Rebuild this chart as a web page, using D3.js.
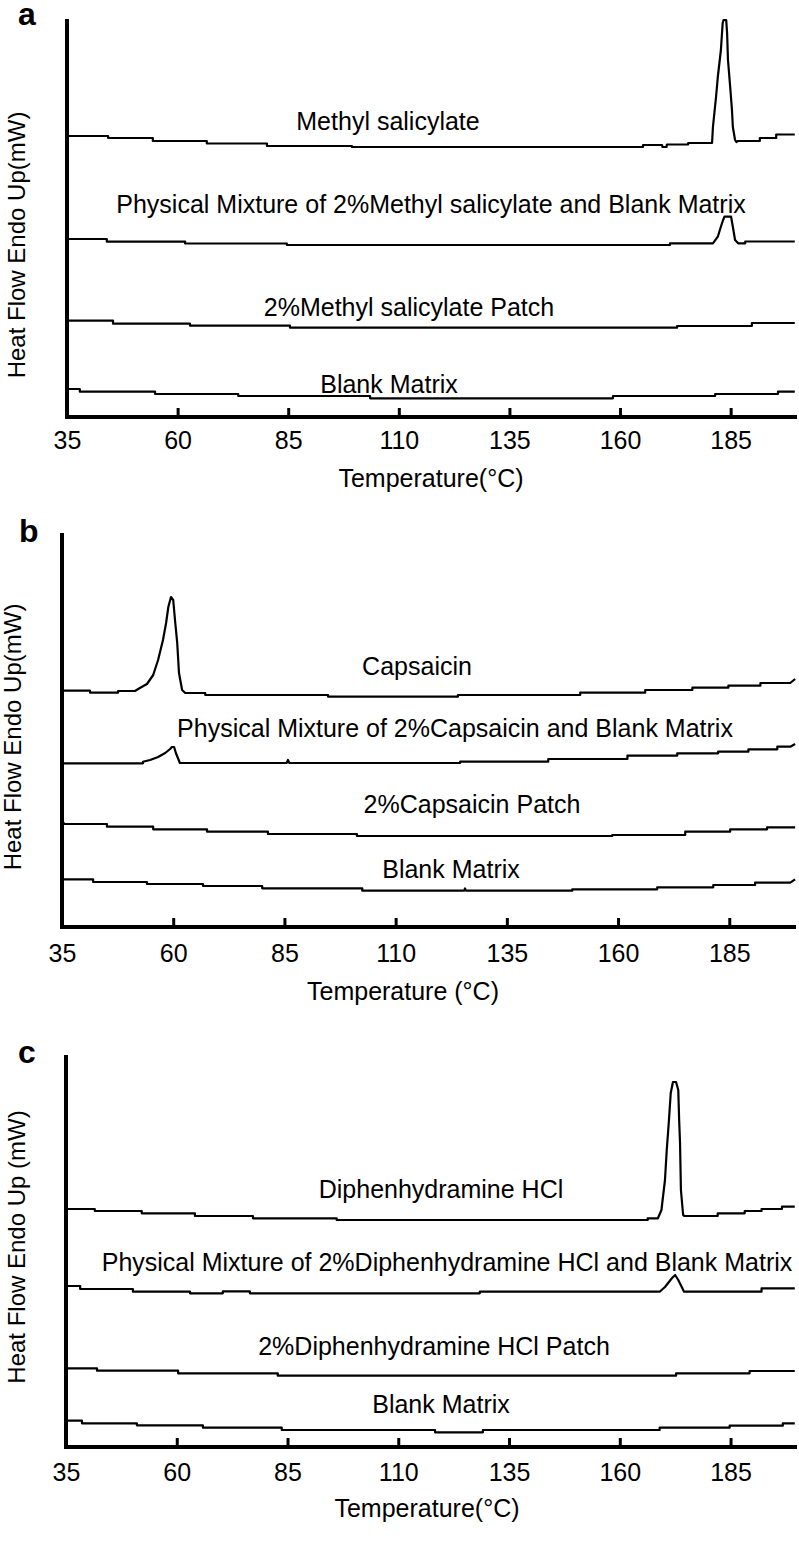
<!DOCTYPE html>
<html>
<head>
<meta charset="utf-8">
<script src="https://cdn.jsdelivr.net/npm/d3@7"></script>
<style>
  html, body { margin: 0; padding: 0; background: #fff; }
  svg { display: block; }
  text { font-family: "Liberation Sans", Arial, sans-serif; fill: #000; }
</style>
</head>
<body>
<svg id="chart" width="799" height="1543"></svg>
<script>
// ---------------- DATA ----------------
const tickTemps = [35, 60, 85, 110, 135, 160, 185];
const tempDomain = [35, 200];

// Panel a (relative heat flow, arbitrary units)
const methylSalicylate = [[35,281],[44.3,281],[44.3,279],[54.4,279],[54.4,276],[66.6,276],[66.6,273.5],[80.2,273.5],[80.2,271],[99.4,271],[99.4,270],[165.2,270],[165.2,272],[169.5,272],[169.6,270],[170.5,270],[170.6,272.5],[175.4,272.5],[175.4,274],[180.8,274],[181.0,290],[181.7,320],[182.1,340],[182.8,367],[183.2,394],[183.4,397],[184.0,397],[184.2,384],[184.4,357],[184.9,330],[185.3,307],[185.5,290],[186.0,277],[186.3,275],[186.6,276],[191.6,276],[191.6,279],[195.3,279],[195.3,282.5],[199.5,282.5]];
const mixtureMethyl = [[35,178],[44.0,178],[44.0,175.3],[61.7,175.3],[61.7,173.5],[84.7,173.5],[84.7,172],[171.3,172],[171.3,173.7],[181.0,173.7],[182.1,180.3],[182.7,189],[183.3,197],[183.6,200.3],[185.1,200.3],[185.5,190.3],[186.0,177],[186.7,173.7],[188.3,173.7],[188.3,175.5],[199.5,175.5]];
const patchMethyl = [[35,96.3],[45.4,96.3],[45.4,93.3],[62.8,93.3],[62.8,91.3],[85.4,91.3],[85.4,89.3],[172.9,89.3],[172.9,91],[189.8,91],[189.8,94],[199.5,94]];
const blankA = [[35,28],[37.9,28],[37.9,25.3],[54.9,25.3],[54.9,23],[73.7,23],[73.7,21],[103.5,21],[103.5,18.7],[158.4,18.7],[158.4,21],[181.5,21],[181.5,23],[195.7,23],[195.7,25.3],[199.5,25.3]];

// Panel b
const capsaicin = [[35,236.3],[41.3,236.3],[41.3,234.3],[47.6,234.3],[47.6,236],[51.4,236],[52.5,239],[54.1,243],[55.5,252],[56.6,267],[57.7,287],[58.4,304],[58.9,320],[59.5,330],[60.0,327],[60.4,307],[60.9,284],[61.3,254],[62.0,237],[62.7,234],[67.2,234],[67.2,232],[94.8,232],[94.8,230.3],[124.0,230.3],[124.0,232],[151.5,232],[151.5,234.3],[166.1,234.3],[166.1,237],[176.7,237],[176.7,239.3],[184.8,239.3],[184.8,241.3],[192.0,241.3],[192.0,244],[198.7,244],[199.8,248]];
const mixtureCapsaicin = [[35,163.7],[53.2,163.7],[53.2,165.3],[54.8,167],[56.6,170],[58.2,174],[59.3,178],[59.7,180],[60.2,180],[60.6,174],[61.5,164],[85.5,164],[85.8,167],[86.1,164],[124.5,164],[124.5,165.3],[144.3,165.3],[144.3,168],[162.1,168],[162.1,171.3],[173.3,171.3],[173.3,173.7],[182.5,173.7],[182.5,175.3],[189.3,175.3],[189.3,177.7],[195.8,177.7],[195.8,180.3],[198.7,180.3],[199.8,183]];
const patchCapsaicin = [[35,107],[35.5,103],[45.1,103],[45.1,100.3],[55.5,100.3],[55.5,97.7],[67.6,97.7],[67.6,95.3],[81.3,95.3],[81.3,93],[101.3,93],[101.3,91],[158.7,91],[158.7,92],[175.1,92],[175.1,95.3],[185.2,95.3],[185.2,97.7],[193.5,97.7],[193.5,99.7],[199.8,99.7]];
const blankB = [[35,47.7],[42.0,47.7],[42.0,45],[54.1,45],[54.1,43],[66.7,43],[66.7,41],[80.0,41],[80.0,38.7],[102.5,38.7],[102.5,36.3],[125.4,36.3],[125.6,38.5],[125.8,36.3],[149.7,36.3],[149.7,37.7],[168.8,37.7],[168.8,39.7],[181.4,39.7],[181.4,42],[190.8,42],[190.8,44.3],[198.7,44.3],[199.8,47.7]];

// Panel c
const diphenhydramine = [[35,238],[41.5,238],[41.5,236],[52.1,236],[52.1,233.7],[64.1,233.7],[64.1,231],[77.2,231],[77.2,228.7],[96.1,228.7],[96.1,227],[166.3,227],[166.3,228.7],[168.6,228.7],[169.4,237],[170.2,267],[170.6,297],[171.1,327],[171.5,354],[172.0,365],[172.7,365],[173.2,357],[173.4,327],[173.6,304],[173.8,257],[174.3,232],[174.6,231],[182.1,231],[182.1,233.7],[188.2,233.7],[188.2,236],[192.0,236],[192.0,238],[196.6,238],[196.6,240.3],[199.5,240.3]];
const mixtureDiphen = [[35,161],[38.2,161],[38.2,158],[50.1,158],[50.1,155.3],[63.0,155.3],[63.0,153.7],[70.4,153.7],[70.4,155.7],[76.5,155.7],[76.5,153.7],[128.4,153.7],[128.4,155.3],[169.0,155.3],[170.2,160],[171.8,169],[172.5,172],[173.2,167],[174.1,159],[174.5,155.3],[192.0,155.3],[192.0,158.7],[199.5,158.7]];
const patchDiphen = [[35,78.7],[42.0,78.7],[42.0,76.3],[60.3,76.3],[60.3,73.7],[82.8,73.7],[82.8,71.3],[172.7,71.3],[172.7,73.7],[189.3,73.7],[189.3,76],[199.5,76]];
const blankC = [[35,26.3],[38.6,26.3],[38.6,23.7],[51.0,23.7],[51.0,21.7],[65.9,21.7],[65.9,19.3],[83.7,19.3],[83.7,17],[118.3,17],[118.3,14.7],[129.1,14.7],[129.1,17],[169.0,17],[169.0,19.3],[184.8,19.3],[184.8,21.3],[196.8,21.3],[196.8,23.7],[199.5,23.7]];

const labelsA = ["Methyl salicylate", "Physical Mixture of 2%Methyl salicylate and Blank Matrix", "2%Methyl salicylate Patch", "Blank Matrix"];
const labelsB = ["Capsaicin", "Physical Mixture of 2%Capsaicin and Blank Matrix", "2%Capsaicin Patch", "Blank Matrix"];
const labelsC = ["Diphenhydramine HCl", "Physical Mixture of 2%Diphenhydramine HCl and Blank Matrix", "2%Diphenhydramine HCl Patch", "Blank Matrix"];

// ---------------- LAYOUT ----------------
const FS = 25;
const panels = [
  { letter: "a", series: [methylSalicylate, mixtureMethyl, patchMethyl, blankA], labels: labelsA,
    yTitle: "Heat Flow Endo Up(mW)", xTitle: "Temperature(°C)",
    x0: 67, x1: 797, top: 19, bottom: 417, letterPos: [18, 25],
    yTitlePos: [25, 245], xTitlePos: [431, 487], tickBase: 32,
    labelPos: [[388, 130], [431, 213], [409, 316], [389, 393]] },
  { letter: "b", series: [capsaicin, mixtureCapsaicin, patchCapsaicin, blankB], labels: labelsB,
    yTitle: "Heat Flow Endo Up(mW)", xTitle: "Temperature (°C)",
    x0: 62, x1: 796, top: 533, bottom: 927, letterPos: [19, 542],
    yTitlePos: [21, 737], xTitlePos: [403, 1000], tickBase: 35,
    labelPos: [[417, 675], [455, 737], [472, 813], [451, 878]] },
  { letter: "c", series: [diphenhydramine, mixtureDiphen, patchDiphen, blankC], labels: labelsC,
    yTitle: "Heat Flow Endo Up (mW)", xTitle: "Temperature(°C)",
    x0: 66, x1: 797, top: 1055, bottom: 1447, letterPos: [18, 1063],
    yTitlePos: [25, 1247], xTitlePos: [427, 1517], tickBase: 34,
    labelPos: [[441, 1198], [447, 1271], [434, 1355], [441, 1413]] }
];

const svg = d3.select("#chart");

panels.forEach(p => {
  const g = svg.append("g");
  const x = d3.scaleLinear().domain(tempDomain).range([p.x0, p.x1]);
  const y = d3.scaleLinear().domain([0, p.bottom - p.top]).range([p.bottom, p.top]);

  // traces
  const line = d3.line().x(d => x(d[0])).y(d => y(d[1]));
  g.selectAll("path.trace").data(p.series).join("path")
    .attr("class", "trace")
    .attr("d", line)
    .attr("fill", "none")
    .attr("stroke", "#000")
    .attr("stroke-width", 2.2)
    .attr("stroke-linejoin", "round");

  // x axis
  const ax = g.append("g").attr("transform", `translate(0,${p.bottom})`)
    .call(d3.axisBottom(x).tickValues(tickTemps).tickFormat(d3.format("d"))
      .tickSizeInner(-9).tickSizeOuter(0).tickPadding(0));
  ax.select(".domain").attr("stroke", "#000").attr("stroke-width", 4)
    .attr("d", `M${p.x0 - 2},0H${p.x1}`);
  ax.selectAll(".tick line").attr("stroke", "#000").attr("stroke-width", 3);
  ax.selectAll(".tick text").attr("y", p.tickBase).attr("dy", null)
    .attr("font-size", FS).attr("fill", "#000")
    .style("font-family", '"Liberation Sans", Arial, sans-serif');

  // y axis line (no ticks)
  g.append("line").attr("x1", p.x0).attr("x2", p.x0)
    .attr("y1", p.top).attr("y2", p.bottom + 2)
    .attr("stroke", "#000").attr("stroke-width", 4);

  // curve labels
  g.selectAll("text.lbl").data(p.labels).join("text")
    .attr("class", "lbl")
    .attr("x", (d, i) => p.labelPos[i][0])
    .attr("y", (d, i) => p.labelPos[i][1])
    .attr("text-anchor", "middle")
    .attr("font-size", FS)
    .text(d => d);

  // axis titles
  g.append("text").attr("x", p.xTitlePos[0]).attr("y", p.xTitlePos[1])
    .attr("text-anchor", "middle").attr("font-size", FS).text(p.xTitle);
  g.append("text")
    .attr("transform", `translate(${p.yTitlePos[0]},${p.yTitlePos[1]}) rotate(-90)`)
    .attr("text-anchor", "middle").attr("font-size", 24).text(p.yTitle);

  // panel letter
  g.append("text").attr("x", p.letterPos[0]).attr("y", p.letterPos[1])
    .attr("font-size", 32).attr("font-weight", "bold").text(p.letter);
});
</script>
</body>
</html>
